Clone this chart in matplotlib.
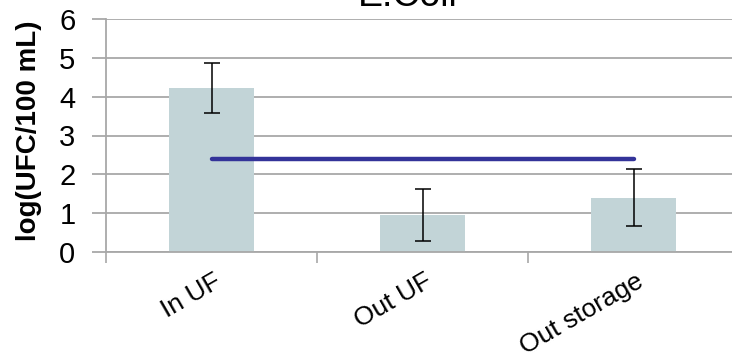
import matplotlib
matplotlib.use("Agg")
import matplotlib.pyplot as plt
import numpy as np

plt.rcParams['font.family'] = ['Liberation Sans', 'DejaVu Sans']

categories = ["In UF", "Out UF", "Out storage"]
means = [4.22, 0.96, 1.40]
errors = [0.64, 0.67, 0.73]
limit_values = [2.4, 2.4, 2.4]
yticks = [0, 1, 2, 3, 4, 5, 6]
title = "E.Coli"
ylabel = "log(UFC/100 mL)"

W, H = 732, 358
fig = plt.figure(figsize=(W / 100, H / 100), dpi=100)
ax = fig.add_axes([106 / W, 106 / H, 633 / W, 233 / H])

x = np.arange(len(categories))
ax.bar(x, means, width=0.40, color='#c2d4d7', zorder=2)
ax.errorbar(x, means, yerr=errors, fmt='none', ecolor='black', elinewidth=1.1,
            capsize=5.5, capthick=1.1, zorder=3)
ax.plot(x, limit_values, color='#333399', linewidth=3.2, solid_capstyle='round', zorder=4)

ax.set_xlim(-0.5, len(categories) - 0.5)
ax.set_ylim(0, 6)
ax.set_yticks(yticks)
ax.set_yticklabels([str(t) for t in yticks], fontsize=21)
ax.yaxis.grid(True, color='#a8a8a8', linewidth=1.3, zorder=0)
ax.set_axisbelow(True)

# category boundary ticks
ax.set_xticks(np.arange(len(categories) + 1) - 0.5)
ax.set_xticklabels([])
ax.tick_params(axis='x', direction='out', length=8, width=1.2, color='#a8a8a8')
ax.tick_params(axis='y', direction='out', length=10, width=1.3, color='#a8a8a8', pad=12)

for xi, lab in zip(x, categories):
    ax.text(xi + 0.01, -0.45, lab, fontsize=19, rotation=30, rotation_mode='anchor',
            ha='right', va='top', transform=ax.transData, clip_on=False)

for s in ['top', 'right']:
    ax.spines[s].set_visible(False)
for s in ['left', 'bottom']:
    ax.spines[s].set_color('#a8a8a8')
    ax.spines[s].set_linewidth(1.3)

fig.text(29 / W, 1 - 131 / H, ylabel, fontsize=20, fontweight='bold',
         rotation=90, ha='center', va='center')

fig.text(408 / W, 1 - 6 / H, title, fontsize=27, ha='center', va='baseline')

fig.savefig("out.png", dpi=100)
